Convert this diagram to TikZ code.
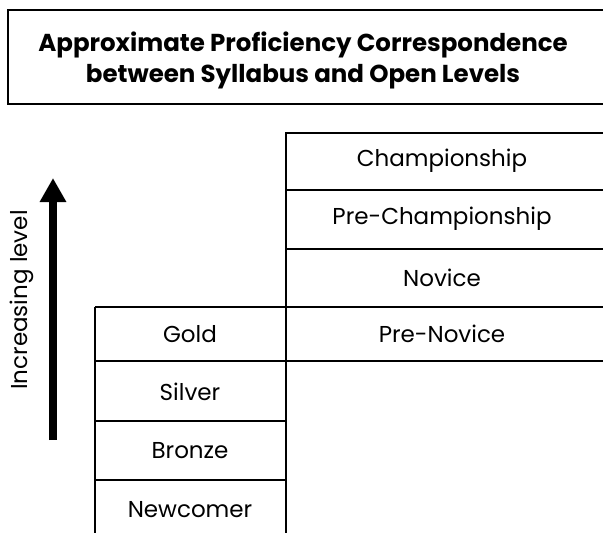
\documentclass[tikz,border=0pt]{standalone}
\usepackage{fontspec}
\setmainfont{Poppins}
\usetikzlibrary{arrows.meta}
\begin{document}
\begin{tikzpicture}[x=1pt,y=-1pt,
  rule/.style={line width=2pt},
  lab/.style={font=\fontsize{23}{26}\selectfont, anchor=center},
  ttl/.style={font=\bfseries\fontsize{24.5}{31}\selectfont, align=center}]
\useasboundingbox (0,0) rectangle (603,533);
% title
\draw[rule] (8,10) rectangle (606,104);
\node[ttl] (title) at (303,60) {Approximate Proficiency Correspondence\\between Syllabus and Open Levels};
% right column
\draw[rule] (286,533) -- (286,133) -- (606,133);
\draw[rule] (286,190) -- (606,190);
\draw[rule] (286,249) -- (606,249);
\draw[rule] (95,307) -- (606,307);
\draw[rule] (95,533) -- (95,307);
\draw[rule] (95,361) -- (606,361);
\draw[rule] (95,421) -- (286,421);
\draw[rule] (95,480) -- (286,480);
\node[lab] (champ) at (442,161) {Championship};
\node[lab] (prech) at (442,219) {Pre-Championship};
\node[lab] (novice) at (442,278) {Novice};
\node[lab] (prenov) at (442,334) {Pre-Novice};
\node[lab] (gold) at (190,334) {Gold};
\node[lab] (silver) at (190,392) {Silver};
\node[lab] (bronze) at (190,451) {Bronze};
\node[lab] (newc) at (190,510) {Newcomer};
% arrow
\coordinate (abot) at (53,440);
\coordinate (atop) at (53,178);
\draw[line width=8pt,-{Triangle[width=25pt,length=24pt]}] (abot) -- (atop);
\node[lab, rotate=90] (inc) at (22,300) {Increasing level};
\end{tikzpicture}
\end{document}
